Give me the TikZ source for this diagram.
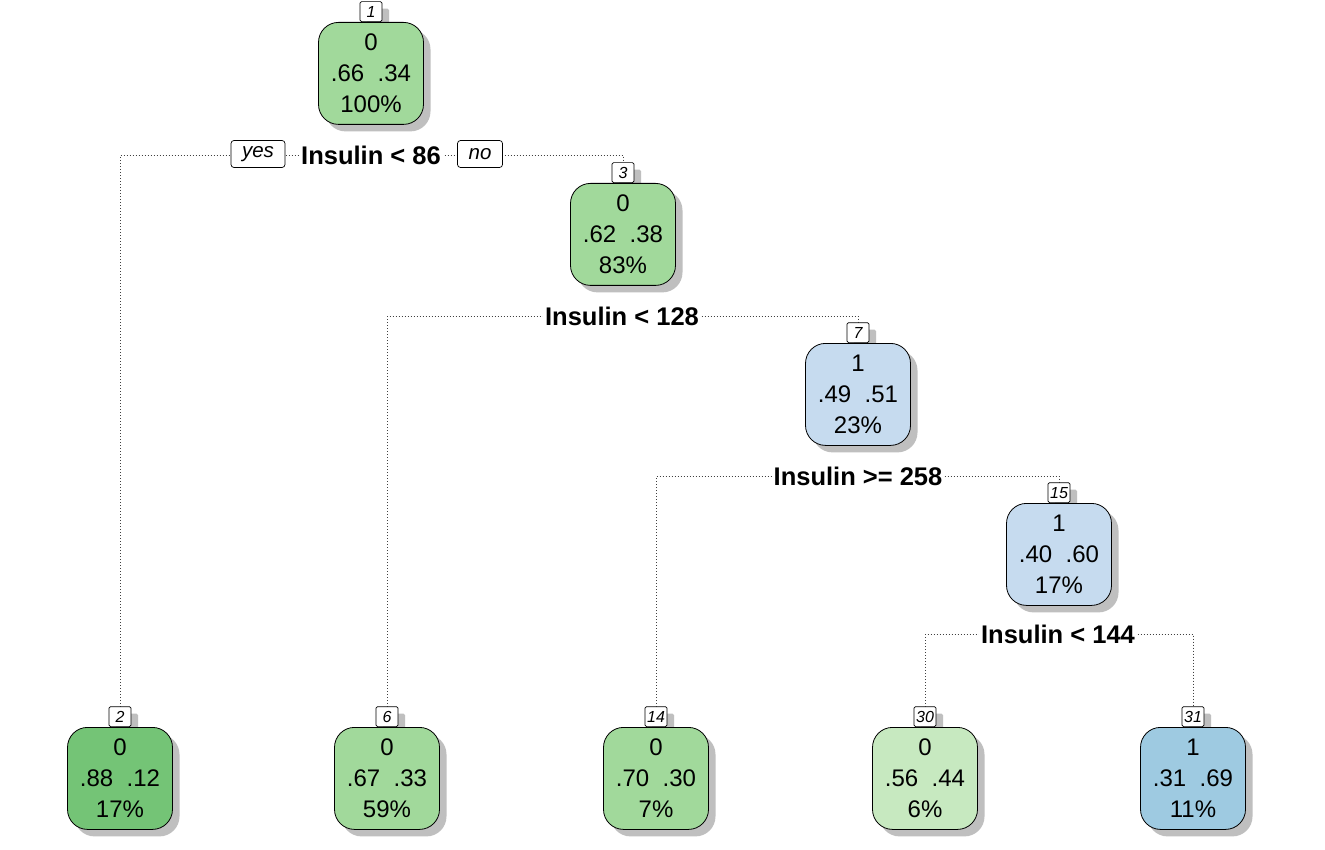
\documentclass[tikz,border=0pt]{standalone}
\usepackage{fontspec}
\setmainfont{Liberation Sans}
\usetikzlibrary{shadows}
\definecolor{gA}{HTML}{A1D99B}
\definecolor{gB}{HTML}{74C476}
\definecolor{gC}{HTML}{C7E9C0}
\definecolor{bA}{HTML}{C6DBEF}
\definecolor{bB}{HTML}{9ECAE1}
\pgfdeclarelayer{bg}
\pgfsetlayers{bg,main}
\begin{document}
\begin{tikzpicture}[x=1pt,y=-1pt,
  shad/.style={drop shadow={shadow xshift=7pt, shadow yshift=-7pt, fill=black!25, opacity=1}},
  tbox/.style={draw=black, line width=0.8pt, rounded corners=20pt, minimum width=105pt, minimum height=102pt, inner sep=0pt, align=center, font=\fontsize{24}{31}\selectfont, shad, anchor=north},
  nbox/.style={draw=black, line width=0.7pt, fill=white, rounded corners=1.5pt, minimum width=22pt, minimum height=20pt, inner sep=2pt, font=\itshape\fontsize{16}{16}\selectfont, shad, anchor=south},
  split/.style={fill=white, inner sep=2pt, font=\bfseries\fontsize{25.5}{25.5}\selectfont},
  yn/.style={draw=black, line width=0.7pt, fill=white, rounded corners=3pt, minimum height=27pt, inner sep=3pt, font=\itshape\fontsize{20.5}{20.5}\selectfont},
  edge/.style={draw=black!75, line width=0.7pt, dash pattern=on 0.8pt off 2.2pt}]
\useasboundingbox (0,0) rectangle (1325,850);
% number boxes
\node[nbox] (k1) at (371,22) {1};
\node[nbox] (k3) at (623,183) {3};
\node[nbox] (k7) at (858,343) {7};
\node[nbox] (k15) at (1059,503) {15};
\node[nbox] (k2) at (120,727) {2};
\node[nbox] (k6) at (387,727) {6};
\node[nbox] (k14) at (656,727) {14};
\node[nbox] (k30) at (925,727) {30};
\node[nbox] (k31) at (1193,727) {31};
% main boxes
\node[tbox, fill=gA] (n1) at (k1.south) {0\\.66\ \ .34\\100\%};
\node[tbox, fill=gA] (n3) at (k3.south) {0\\.62\ \ .38\\83\%};
\node[tbox, fill=bA] (n7) at (k7.south) {1\\.49\ \ .51\\23\%};
\node[tbox, fill=bA] (n15) at (k15.south) {1\\.40\ \ .60\\17\%};
\node[tbox, fill=gB] (n2) at (k2.south) {0\\.88\ \ .12\\17\%};
\node[tbox, fill=gA] (n6) at (k6.south) {0\\.67\ \ .33\\59\%};
\node[tbox, fill=gA] (n14) at (k14.south) {0\\.70\ \ .30\\7\%};
\node[tbox, fill=gC] (n30) at (k30.south) {0\\.56\ \ .44\\6\%};
\node[tbox, fill=bB] (n31) at (k31.south) {1\\.31\ \ .69\\11\%};
% split labels
\node[split] (s1) at (371,155) {Insulin < 86};
\node[split] (s3) at (622,316) {Insulin < 128};
\node[split] (s7) at (858,476) {Insulin >= 258};
\node[split] (s15) at (1058,634) {Insulin < 144};
\node[yn, minimum width=54pt] (yes) at (258,154) {yes};
\node[yn, minimum width=45pt] (no) at (480,154) {no};
% edges
\begin{pgfonlayer}{bg}
\fill[white] (0,0) rectangle (1325,850);
\draw[edge] (k2.north) |- (s1.center) -| (k3.north);
\draw[edge] (k6.north) |- (s3.center) -| (k7.north);
\draw[edge] (k14.north) |- (s7.center) -| (k15.north);
\draw[edge] (k30.north) |- (s15.center) -| (k31.north);
\end{pgfonlayer}
\end{tikzpicture}
\end{document}
